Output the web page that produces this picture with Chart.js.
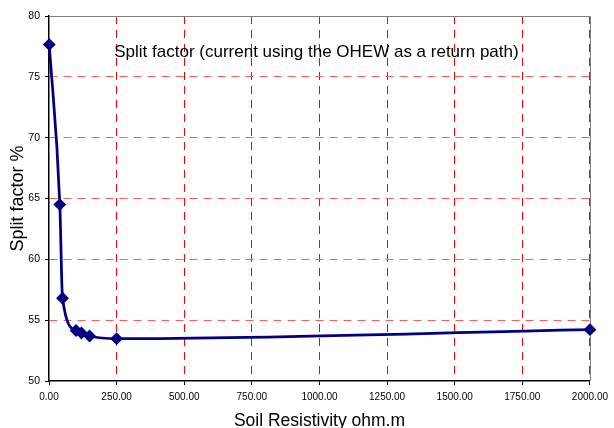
<!DOCTYPE html>
<html><head><meta charset="utf-8">
<script src="https://cdn.jsdelivr.net/npm/chart.js@4/dist/chart.umd.min.js"></script>
<style>html,body{margin:0;padding:0;background:#fff}</style>
</head><body>
<canvas id="c" width="614" height="428"></canvas>
<script>
const resistivity = [1, 40, 50, 100, 120, 150, 250, 2000];
const splitFactor = [77.65, 64.5, 56.8, 54.15, 53.95, 53.7, 53.48, 54.22];
const chartTitle = 'Split factor (current using the OHEW as a return path)';
const xAxisTitle = 'Soil Resistivity ohm.m';
const yAxisTitle = 'Split factor %';
const FONT = "'Liberation Sans', Arial, sans-serif";

const points = resistivity.map((x, i) => ({x: x, y: splitFactor[i]}));

const framePlugin = {
  id: 'frame',
  beforeDatasetsDraw(chart) {
    const {ctx, chartArea: a} = chart;
    ctx.save();
    ctx.strokeStyle = '#808080';
    ctx.lineWidth = 1;
    ctx.beginPath();
    ctx.moveTo(a.left, Math.round(a.top) + 0.5);
    ctx.lineTo(Math.round(a.right) + 0.5, Math.round(a.top) + 0.5);
    ctx.lineTo(Math.round(a.right) + 0.5, a.bottom);
    ctx.stroke();
    ctx.restore();
  },
  afterDatasetsDraw(chart) {
    const {ctx, chartArea: a} = chart;
    ctx.save();
    ctx.font = '17px ' + FONT;
    ctx.fillStyle = '#000';
    ctx.textAlign = 'center';
    ctx.textBaseline = 'middle';
    ctx.fillText(chartTitle, (a.left + a.right) / 2 - 3, a.top + 36);
    ctx.restore();
  }
};

new Chart(document.getElementById('c'), {
  type: 'scatter',
  data: {
    datasets: [{
      data: points,
      showLine: true,
      borderColor: '#000080',
      backgroundColor: '#000080',
      borderWidth: 2.75,
      pointStyle: 'rectRot',
      pointRadius: 4.5,
      pointHoverRadius: 4.5,
      cubicInterpolationMode: 'monotone',
      clip: false
    }]
  },
  options: {
    responsive: false,
    animation: false,
    events: [],
    layout: {padding: {left: 0, right: 21, top: 16, bottom: 0}},
    plugins: {legend: {display: false}, tooltip: {enabled: false}},
    scales: {
      x: {
        type: 'linear', min: 0, max: 2000,
        afterFit(s) { s.height = 47; },
        ticks: {stepSize: 250, padding: 6, color: '#000', font: {size: 10, family: FONT},
          callback: v => Number(v).toFixed(2), maxRotation: 0, autoSkip: false},
        grid: {
          color: c => (c.tick && (c.tick.value === 0)) ? 'rgba(0,0,0,0)' : '#ff0000',
          tickColor: '#000', tickLength: 4, tickBorderDash: [], lineWidth: 1
        },
        border: {display: true, color: '#000', width: 1.5, dash: [8, 6]},
        title: {display: true, text: xAxisTitle, color: '#000', font: {size: 17.5, family: FONT}, padding: {top: 0, bottom: -4}}
      },
      y: {
        min: 50, max: 80,
        afterFit(s) { s.width = 49; },
        ticks: {stepSize: 5, padding: 5, color: '#000', font: {size: 10.5, family: FONT}},
        grid: {
          color: c => (c.tick && (c.tick.value === 50 || c.tick.value === 80)) ? 'rgba(0,0,0,0)' : '#ff5c5c',
          tickColor: '#000', tickLength: 4, tickBorderDash: [], lineWidth: 1
        },
        border: {display: true, color: '#000', width: 1.5, dash: [8, 6]},
        title: {display: true, text: yAxisTitle, color: '#000', font: {size: 18, family: FONT}, padding: {top: 7, bottom: 0}}
      }
    }
  },
  plugins: [framePlugin]
});
</script>
</body></html>
